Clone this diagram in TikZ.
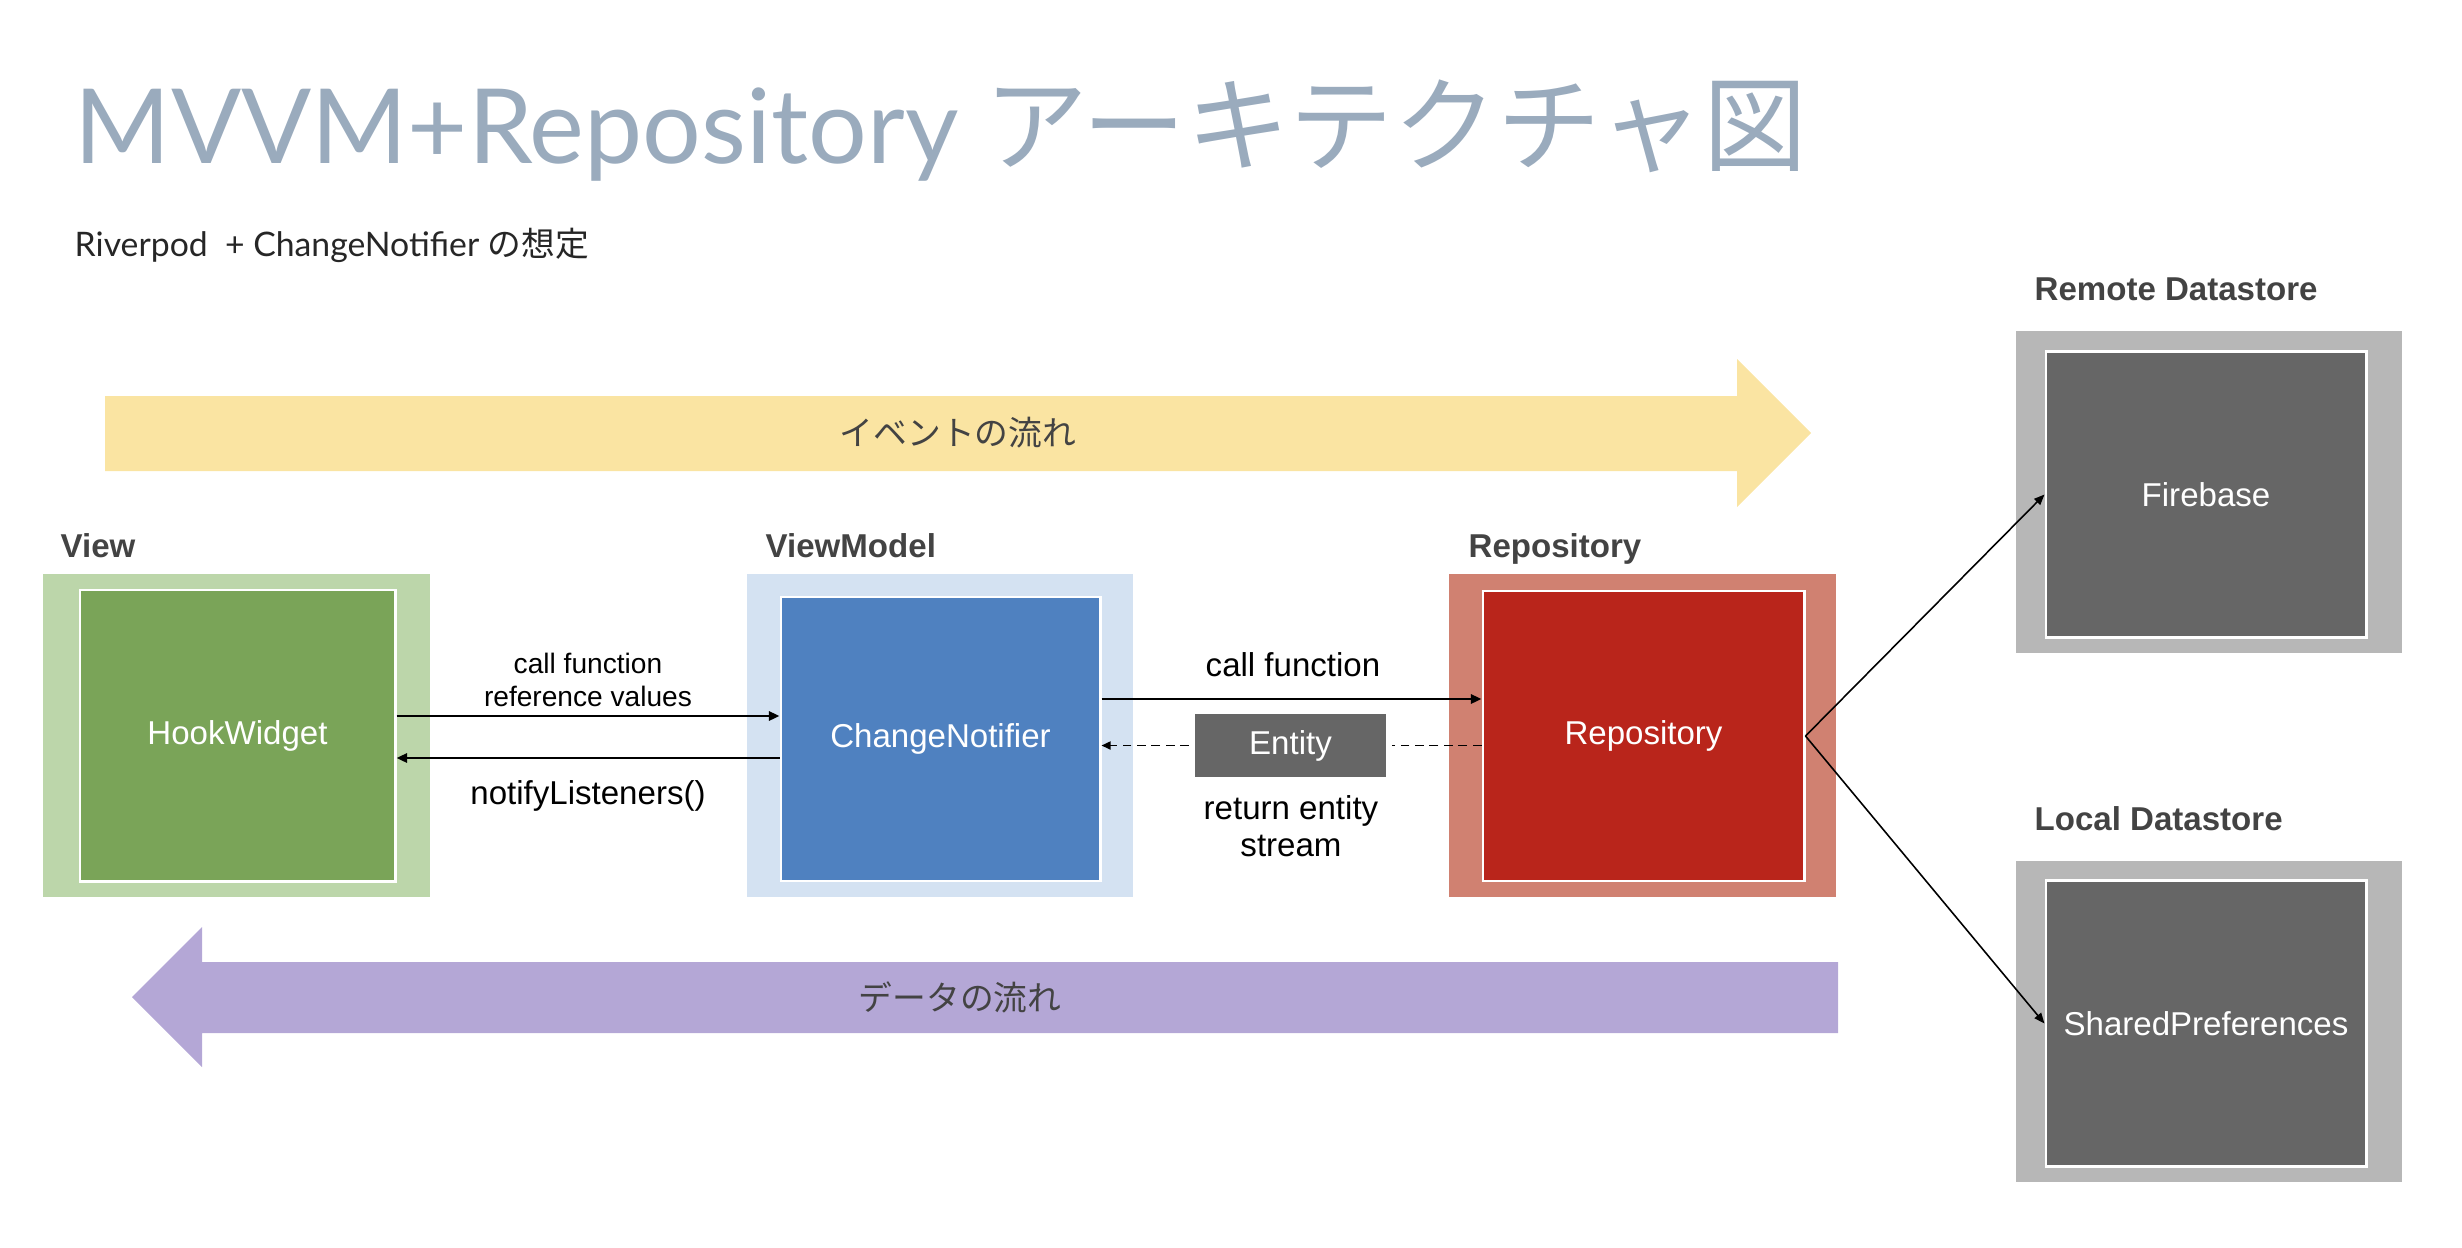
\documentclass[tikz,border=0pt]{standalone}
\usepackage{fontspec}
\setmainfont{Liberation Sans}
\newfontfamily\latofont{Lato}
\newfontfamily\jpfont{Noto Sans CJK JP}
\usetikzlibrary{arrows.meta,positioning,calc}

\definecolor{titlegray}{RGB}{154,171,189}
\definecolor{ink}{RGB}{67,67,67}
\definecolor{viewouter}{RGB}{188,214,170}
\definecolor{viewinner}{RGB}{122,164,88}
\definecolor{vmouter}{RGB}{212,226,242}
\definecolor{vminner}{RGB}{79,129,192}
\definecolor{repoouter}{RGB}{208,129,113}
\definecolor{repoinner}{RGB}{185,37,27}
\definecolor{storeouter}{RGB}{183,183,183}
\definecolor{storeinner}{RGB}{102,102,102}
\definecolor{eventflow}{RGB}{250,228,162}
\definecolor{dataflow}{RGB}{180,167,214}

\begin{document}
\begin{tikzpicture}[x=0.01cm,y=-0.01cm,
    outerbox/.style={fill=#1,minimum width=3.86cm,minimum height=3.23cm,inner sep=0pt},
    innerbox/.style={fill=#1,draw=white,line width=0.8pt,text=white,
      font=\fontsize{9.4}{11}\selectfont,minimum width=3.2cm,minimum height=2.86cm,inner sep=0pt},
    layer/.style={anchor=base west,inner sep=0pt,text=ink,font=\fontsize{9.4}{11}\selectfont\bfseries},
    msg/.style={text=black,font=\fontsize{9.4}{10.5}\selectfont,align=center,inner sep=0pt},
    conn/.style={-{Triangle[length=3pt,width=2.6pt]},line width=0.7pt},
    flowlbl/.style={text=ink,font=\jpfont\fontsize{9.6}{11}\selectfont}]
  \useasboundingbox (0,0) rectangle (2462,1248);

  % title
  \node[anchor=base west,inner sep=0pt,text=titlegray,font=\fontsize{29.5}{34}\selectfont]
    (title) at (74,163) {{\latofont MVVM+Repository }{\jpfont アーキテクチャ図}};
  \node[anchor=base west,inner sep=0pt,text=black!85,font=\fontsize{9.6}{11}\selectfont]
    (sub) at (74,256) {{\latofont Riverpod\ \ + ChangeNotifier }{\jpfont の想定}};

  % flow arrows
  \fill[eventflow] (105,396) -- (1737,396) -- (1737,359) -- (1811,433)
    -- (1737,507) -- (1737,471) -- (105,471) -- cycle;
  \node[flowlbl] (evtlbl) at (958,433) {イベントの流れ};
  \fill[dataflow] (1838,962) -- (202,962) -- (202,927) -- (132,997)
    -- (202,1067) -- (202,1033) -- (1838,1033) -- cycle;
  \node[flowlbl] (datalbl) at (960,997) {データの流れ};

  % layers
  \node[outerbox=viewouter] (view) at (236.5,735.5) {};
  \node[innerbox=viewinner,minimum width=3.15cm,minimum height=2.91cm] (hook) at (237.5,735.5) {HookWidget};
  \node[layer] at (60,557) {View};

  \node[outerbox=vmouter] (vm) at (940,735.5) {};
  \node[innerbox=vminner,minimum width=3.19cm,minimum height=2.84cm] (cn) at (940.5,739) {ChangeNotifier};
  \node[layer] at (765,557) {ViewModel};

  \node[outerbox=repoouter] (repoarea) at (1642.5,735.5) {};
  \node[innerbox=repoinner,minimum width=3.21cm,minimum height=2.9cm] (repo) at (1643.5,736) {Repository};
  \node[layer] at (1468,557) {Repository};

  \node[outerbox=storeouter,minimum height=3.22cm] (remote) at (2209,492) {};
  \node[innerbox=storeinner] (fire) at (2206,494.5) {Firebase};
  \node[layer] at (2034,300) {Remote Datastore};

  \node[outerbox=storeouter,minimum height=3.21cm] (local) at (2209,1021.5) {};
  \node[innerbox=storeinner] (shared) at (2206,1023.5) {SharedPreferences};
  \node[layer] at (2034,830) {Local Datastore};

  % messages
  \draw[conn] (hook.east |- 0,716) -- (cn.west |- 0,716);
  \draw[conn] (cn.west |- 0,758) -- (hook.east |- 0,758);
  \node[msg,font=\fontsize{8}{9.4}\selectfont] (callvm) at (588,680) {call function\\reference values};
  \node[msg] (notify) at (588,796) {notifyListeners()};

  \draw[conn] (cn.east |- 0,699) -- (repo.west |- 0,699);
  \node[msg] (callrepo) at (1293,665) {call function};

  \node[fill=storeinner,text=white,font=\fontsize{9.4}{11}\selectfont,
    minimum width=1.91cm,minimum height=0.63cm,inner sep=0pt] (entity) at (1290.5,745.5) {Entity};
  \draw[line width=0.5pt,dash pattern=on 2.5pt off 1.6pt,shorten >=1.5pt]
    (repo.west |- entity.east) -- (entity.east);
  \draw[line width=0.5pt,-{Triangle[length=2.6pt,width=2.3pt]},dash pattern=on 2.5pt off 1.6pt,shorten <=1.5pt]
    (entity.west) -- (cn.east |- entity.west);
  \node[msg] (ret) at (1291,826) {return entity\\stream};

  % datastores
  \draw[line width=0.45pt,-{Triangle[length=3pt,width=2.4pt]}] (repo.east) -- (fire.west);
  \draw[line width=0.45pt,-{Triangle[length=3pt,width=2.4pt]}] (repo.east) -- (shared.west);
\end{tikzpicture}
\end{document}
